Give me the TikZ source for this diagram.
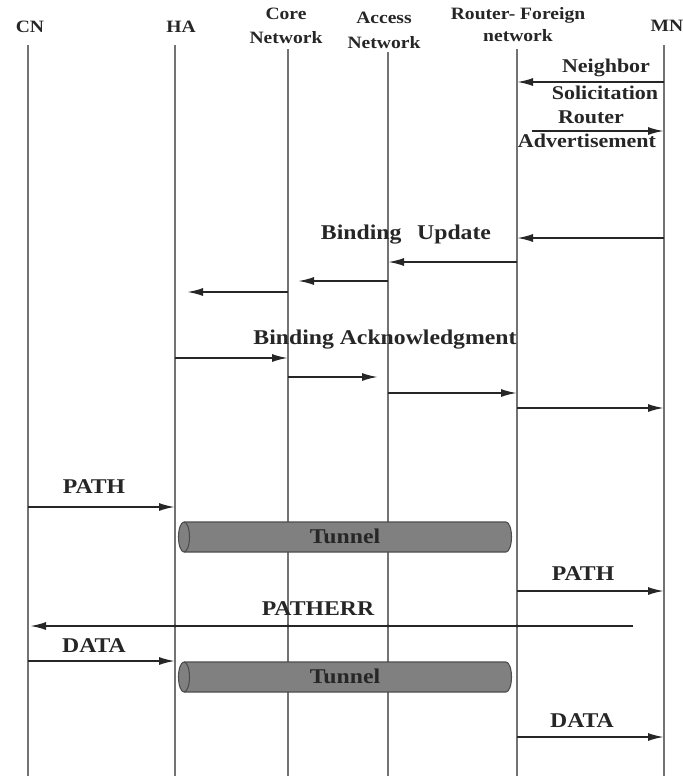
\documentclass[tikz,border=0pt]{standalone}
\usepackage{fontspec}
\setmainfont{Liberation Serif}[FakeStretch=1.13]
\usetikzlibrary{arrows.meta}
\begin{document}
\begin{tikzpicture}[x=0.75pt,y=-0.75pt,
  life/.style={draw=black!55,line width=0.9pt},
  msg/.style={draw=black!85,line width=1.4pt,-{Latex[length=12pt,width=6pt]}},
  hdr/.style={font=\fontsize{13}{17}\selectfont\bfseries,text=black!85,inner sep=0pt,align=center},
  lbl/.style={font=\fontsize{15.75}{17}\selectfont\bfseries,text=black!85,inner sep=0pt,text height=0.7em,text depth=0.22em},
  slbl/.style={lbl,font=\fontsize{14.6}{16}\selectfont\bfseries},
  tube/.style={fill=black!50,draw=black!70,line width=0.8pt},
  tunnel/.pic={
    \filldraw[tube] (0,-15) -- (322,-15) arc[start angle=-90,end angle=90,x radius=5.5,y radius=15]
      -- (0,15) arc[start angle=90,end angle=270,x radius=5.5,y radius=15] -- cycle;
    \draw[tube,fill=none] (0,-15) arc[start angle=-90,end angle=90,x radius=5.5,y radius=15];
  }]
\useasboundingbox (0,0) rectangle (683,776);

% headers
\node[hdr] (cn) at (30,27) {CN};
\node[hdr] (ha) at (181,27) {HA};
\node[hdr] (co) at (286,26) {Core\\[1pt]Network};
\node[hdr] (ac) at (384,30.5) {Access\\[1.75pt]Network};
\node[hdr] (rf) at (518,25) {Router- Foreign\\[-0.5pt]network};
\node[hdr] (mn) at (667,26) {MN};

% lifelines
\coordinate (cnT) at (28,45);   \coordinate (cnB) at (28,776);
\coordinate (haT) at (175,45);  \coordinate (haB) at (175,776);
\coordinate (coT) at (288,49);  \coordinate (coB) at (288,776);
\coordinate (acT) at (388,52);  \coordinate (acB) at (388,776);
\coordinate (rfT) at (517,49);  \coordinate (rfB) at (517,776);
\coordinate (mnT) at (664,45);  \coordinate (mnB) at (664,776);
\draw[life] (cnT) -- (cnB);
\draw[life] (haT) -- (haB);
\draw[life] (coT) -- (coB);
\draw[life] (acT) -- (acB);
\draw[life] (rfT) -- (rfB);
\draw[life] (mnT) -- (mnB);

% neighbor solicitation / router advertisement
\draw[msg] (mnT|-0,82) -- (rfT|-0,82);
\node[slbl] (ns1) at (606,69) {Neighbor};
\node[slbl] (ns2) at (605,96) {Solicitation};
\draw[msg,shorten <=11pt] (rfT|-0,131) -- (mnT|-0,131);
\node[slbl] (ra1) at (591,120) {Router};
\node[slbl] (ra2) at (587,144) {Advertisement};

% binding update
\node[lbl] (bu) at (406,236) {Binding\hspace{0.75em}Update};
\draw[msg] (mnT|-0,238) -- (rfT|-0,238);
\draw[msg] (rfT|-0,262) -- (acT|-0,262);
\draw[msg,shorten >=7.5pt] (acT|-0,281) -- (coT|-0,281);
\draw[msg,shorten >=9pt] (coT|-0,292) -- (haT|-0,292);

% binding acknowledgment
\node[lbl] (ba) at (385,341) {Binding Acknowledgment};
\draw[msg] (haT|-0,358) -- (coT|-0,358);
\draw[msg,shorten >=7.5pt] (coT|-0,377) -- (acT|-0,377);
\draw[msg] (acT|-0,393) -- (rfT|-0,393);
\draw[msg] (rfT|-0,408) -- (mnT|-0,408);

% PATH
\node[lbl] (p1) at (94,490) {PATH};
\draw[msg] (cnT|-0,507) -- (haT|-0,507);
\pic at (184,537) {tunnel};
\node[lbl] (t1) at (345,540) {Tunnel};
\node[lbl] (p2) at (583,577) {PATH};
\draw[msg] (rfT|-0,591) -- (mnT|-0,591);

% PATHERR
\node[lbl] (pe) at (318,612) {PATHERR};
\draw[msg,shorten <=23pt,shorten >=1.5pt] (mnT|-0,626) -- (cnT|-0,626);
\foreach \c in {haT,coT,acT,rfT} \fill[black!85] (\c|-0,626) circle[radius=1.6];

% DATA
\node[lbl] (d1) at (94,649) {DATA};
\draw[msg] (cnT|-0,661) -- (haT|-0,661);
\pic at (184,677) {tunnel};
\node[lbl] (t2) at (345,680) {Tunnel};
\node[lbl] (d2) at (582,724) {DATA};
\draw[msg] (rfT|-0,737) -- (mnT|-0,737);
\end{tikzpicture}
\end{document}
